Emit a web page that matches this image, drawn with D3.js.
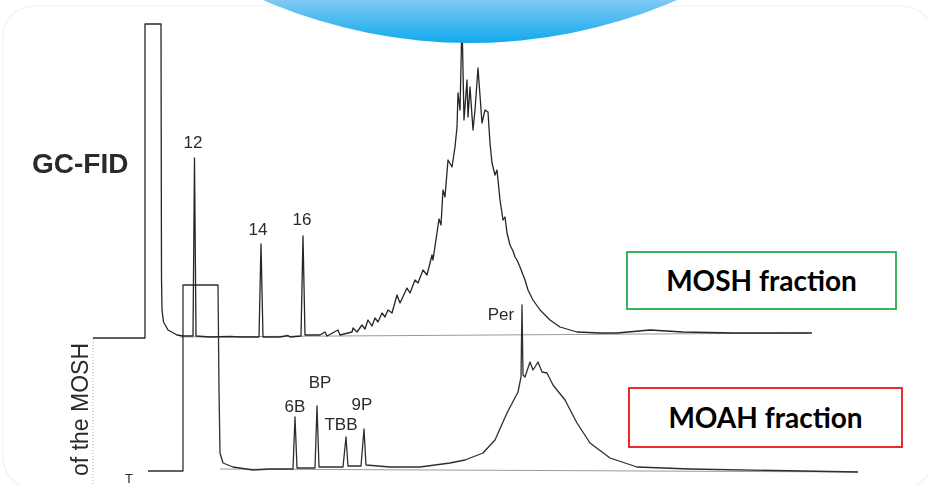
<!DOCTYPE html>
<html>
<head>
<meta charset="utf-8">
<script src="https://cdn.jsdelivr.net/npm/d3@7"></script>
<style>
  html, body { margin: 0; padding: 0; background: #fff; overflow: hidden; }
</style>
</head>
<body>
<div id="chart"></div>
<script>
// retention time (min) vs detector signal
const moshTrace = [
  [0.3, -1], [5.5, -1], [5.5, 313], [7.1, 313], [7.15, 60], [7.2, 27], [7.35, 15],
  [7.8, 7], [8.7, 2], [9.3, 1], [10.3, 1], [10.45, 179], [10.6, 1], [12.0, 0],
  [14.0, 0.5], [15.0, 0], [16.9, 0], [17.1, 93], [17.3, 0], [19.0, 0], [19.8, 1.5],
  [20.0, 0], [21.1, 1], [21.3, 101], [21.5, 2], [23.0, 2], [23.5, 5], [23.7, 1],
  [24.8, 7], [25.0, 2], [26.2, 5], [26.3, 9], [26.7, 5], [27.2, 12], [27.5, 8],
  [27.8, 17], [28.2, 11], [28.5, 19], [28.8, 15], [29.2, 24], [29.5, 20], [29.8, 27],
  [30.2, 24], [30.7, 42], [31.0, 34], [31.7, 49], [32.0, 44], [32.5, 57], [32.8, 54],
  [33.3, 67], [33.7, 62], [34.2, 82], [34.3, 77], [34.9, 118], [35.1, 112], [35.3, 147],
  [35.5, 140], [35.8, 177], [36.2, 170], [36.5, 190], [36.7, 210], [36.8, 244], [37.0, 227],
  [37.2, 317], [37.4, 217], [37.7, 257], [37.8, 220], [38.0, 250], [38.3, 207], [38.5, 227],
  [38.8, 269], [39.2, 214], [39.5, 227], [39.8, 225], [40.0, 194], [40.2, 174], [40.5, 162],
  [40.7, 167], [40.9, 147], [41.0, 137], [41.3, 117], [41.5, 120], [41.7, 104], [42.0, 92],
  [42.3, 86], [42.5, 80], [42.7, 77], [43.0, 70], [43.5, 57], [43.8, 47], [44.3, 37],
  [45.0, 27], [46.0, 17], [47.0, 10], [48.7, 5], [51.0, 4], [52.7, 4], [56.0, 7],
  [59.3, 5], [64.3, 4], [72.2, 4]
];

const moahTrace = [
  [5.8, -1], [9.3, -1], [9.3, 185], [12.8, 185], [12.9, 80], [13.0, 17], [13.3, 7],
  [14.3, 3], [16.3, 0], [18.0, 1], [20.3, 1], [20.5, 53], [20.7, 2], [22.5, 2],
  [22.7, 64], [22.9, 3], [25.3, 3], [25.6, 33], [25.8, 4], [27.1, 4], [27.4, 41],
  [27.6, 5], [30.0, 3], [33.0, 3], [36.0, 7], [37.5, 10], [39.3, 17], [40.5, 30],
  [41.7, 57], [42.8, 78], [43.1, 93], [43.2, 165], [43.3, 95], [43.5, 93], [44.0, 108],
  [44.3, 100], [44.5, 103], [44.8, 108], [45.2, 98], [45.7, 97], [46.3, 85], [47.5, 70],
  [48.7, 47], [50.0, 27], [52.0, 12], [54.7, 3], [60.0, 1], [76.8, -2]
];

const moshBaseline = [[9.0, 0], [72.0, 4]];
const moahBaseline = [[13.0, 1], [76.8, -2]];

// peak labels: text, retention time, signal height of the label baseline
const moshLabels = [['12', 10.3, 189], ['14', 16.8, 102], ['16', 21.2, 112]];
const moahLabels = [['6B', 20.5, 58], ['BP', 23.0, 82], ['TBB', 25.1, 40], ['9P', 27.2, 60], ['Per', 41.1, 150]];

const width = 929, height = 485;

const svg = d3.select('#chart')
  .append('svg')
  .attr('width', width)
  .attr('height', height);

const defs = svg.append('defs');
const grad = defs.append('linearGradient')
  .attr('id', 'blue')
  .attr('gradientUnits', 'userSpaceOnUse')
  .attr('x1', 0).attr('y1', 0).attr('x2', 0).attr('y2', 44);
grad.append('stop').attr('offset', '0%').attr('stop-color', '#7fc8f3');
grad.append('stop').attr('offset', '100%').attr('stop-color', '#0ea9ee');

defs.append('filter').attr('id', 'scan')
  .append('feGaussianBlur').attr('stdDeviation', 0.35);

// card
svg.append('rect')
  .attr('x', 3).attr('y', 6)
  .attr('width', 930).attr('height', 482)
  .attr('rx', 30)
  .attr('fill', '#fff')
  .attr('stroke', '#efefef');

// scales
const x = d3.scaleLinear().domain([0, 77]).range([90, 860]);
const yTop = d3.scaleLinear().domain([0, 300]).range([337, 37]);
const yBot = d3.scaleLinear().domain([0, 300]).range([470, 170]);

const lineTop = d3.line().x(d => x(d[0])).y(d => yTop(d[1]));
const lineBot = d3.line().x(d => x(d[0])).y(d => yBot(d[1]));

const g = svg.append('g').attr('filter', 'url(#scan)');

// baselines
g.append('path').datum(moshBaseline)
  .attr('fill', 'none').attr('stroke', '#9a9a9a').attr('stroke-width', 1)
  .attr('d', lineTop);
g.append('path').datum(moahBaseline)
  .attr('fill', 'none').attr('stroke', '#9a9a9a').attr('stroke-width', 1)
  .attr('d', lineBot);

// dotted left edge of the lower panel
g.append('line')
  .attr('x1', x(0.3)).attr('x2', x(0.3))
  .attr('y1', yTop(-2)).attr('y2', height)
  .attr('stroke', '#aaa').attr('stroke-dasharray', '1,2');

// traces
g.append('path').datum(moahTrace)
  .attr('fill', 'none').attr('stroke', '#2e2e2e').attr('stroke-width', 1.3)
  .attr('stroke-linejoin', 'round')
  .attr('d', lineBot);
g.append('path').datum(moshTrace)
  .attr('fill', 'none').attr('stroke', '#262626').attr('stroke-width', 1.3)
  .attr('stroke-linejoin', 'round')
  .attr('d', lineTop);

// peak labels
g.selectAll('.lt').data(moshLabels).join('text')
  .attr('x', d => x(d[1])).attr('y', d => yTop(d[2]))
  .attr('text-anchor', 'middle')
  .attr('font-family', 'Liberation Sans, Arial, sans-serif')
  .attr('font-size', 17).attr('fill', '#2a2a2a')
  .text(d => d[0]);
g.selectAll('.lb').data(moahLabels).join('text')
  .attr('x', d => x(d[1])).attr('y', d => yBot(d[2]))
  .attr('text-anchor', 'middle')
  .attr('font-family', 'Liberation Sans, Arial, sans-serif')
  .attr('font-size', 17).attr('fill', '#2a2a2a')
  .text(d => d[0]);

g.append('text')
  .attr('x', 32).attr('y', 173)
  .attr('font-family', 'Liberation Sans, Arial, sans-serif')
  .attr('font-weight', 'bold').attr('font-size', 28)
  .attr('fill', '#2a2a2a')
  .text('GC-FID');

g.append('text')
  .attr('transform', 'translate(88,343) rotate(-90)')
  .attr('text-anchor', 'end')
  .attr('font-family', 'Liberation Sans, Arial, sans-serif')
  .attr('font-size', 23).attr('fill', '#2a2a2a')
  .text('of the MOSH');

g.append('text')
  .attr('x', 125).attr('y', 483)
  .attr('font-family', 'Liberation Sans, Arial, sans-serif')
  .attr('font-size', 13).attr('fill', '#2a2a2a')
  .text('T');

// fraction boxes
const boxes = [
  { label: 'MOSH fraction', x: 627, y: 252, w: 269, h: 57, color: '#22ad4a' },
  { label: 'MOAH fraction', x: 629, y: 388, w: 273, h: 59, color: '#e8141b' }
];
const bg = svg.selectAll('.box').data(boxes).join('g');
bg.append('rect')
  .attr('x', d => d.x).attr('y', d => d.y)
  .attr('width', d => d.w).attr('height', d => d.h)
  .attr('fill', '#fff').attr('stroke', d => d.color).attr('stroke-width', 1.8);
bg.append('text')
  .attr('x', d => d.x + d.w / 2).attr('y', d => d.y + d.h / 2 + 10)
  .attr('text-anchor', 'middle')
  .attr('font-family', 'Lato, sans-serif')
  .attr('font-weight', 'bold').attr('font-size', 28)
  .attr('fill', '#000')
  .text(d => d.label);

// blue bubble at the top
svg.append('circle')
  .attr('cx', 470).attr('cy', -477).attr('r', 520)
  .attr('fill', 'url(#blue)');
</script>
</body>
</html>
